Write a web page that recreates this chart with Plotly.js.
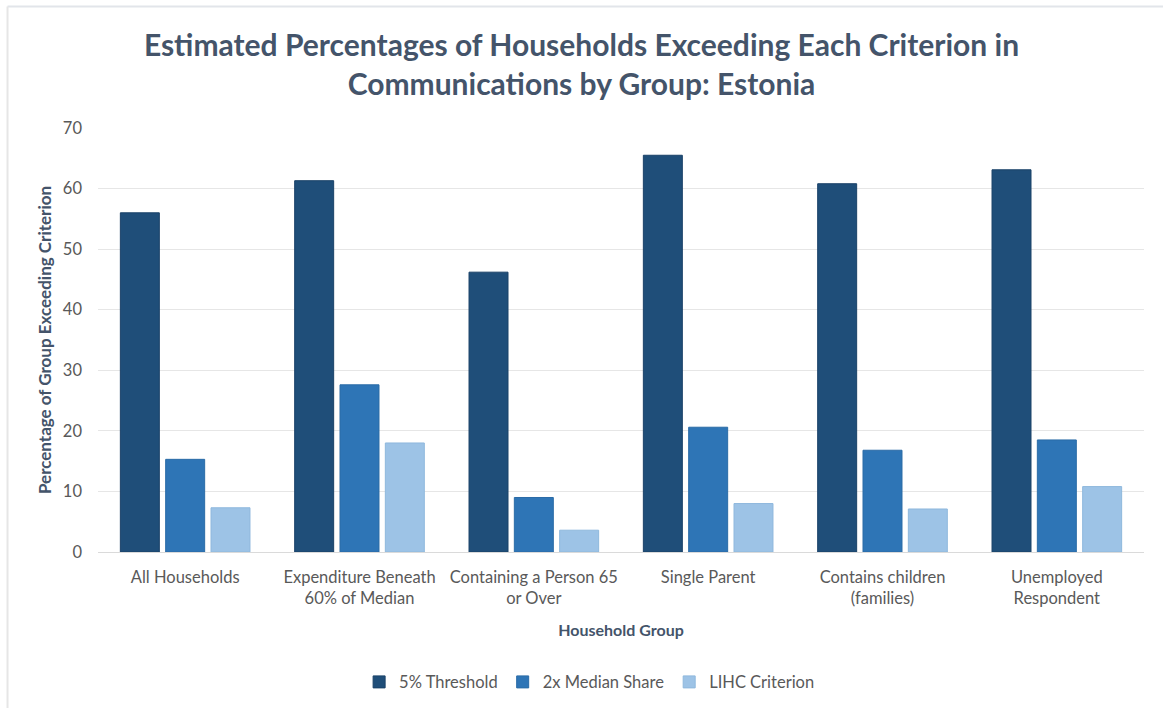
<!DOCTYPE html>
<html>
<head>
<meta charset="utf-8">
<script src="https://cdn.plot.ly/plotly-3.0.1.min.js"></script>
<style>html,body{margin:0;padding:0;background:#fff;}#chart{width:1163px;height:708px;}</style>
</head>
<body>
<div id="chart"></div>
<script>
const categories = [
  "All Households",
  "Expenditure Beneath<br>60% of Median",
  "Containing a Person 65<br>or Over",
  "Single Parent",
  "Contains children<br>(families)",
  "Unemployed<br>Respondent"
];
const seriesNames = ["5% Threshold", "2x Median Share", "LIHC Criterion"];
const threshold5 = [56.0, 61.3, 46.2, 65.5, 60.8, 63.1];
const medianShare2x = [15.3, 27.6, 9.0, 20.6, 16.8, 18.5];
const lihc = [7.3, 18.0, 3.6, 8.0, 7.1, 10.8];
const yTicks = [0, 10, 20, 30, 40, 50, 60, 70];

const colors = ["#1F4E79", "#2E75B6", "#9DC3E6"];
const lineColors = ["#1A4268", "#2A6BA6", "#8FB8DD"];
const seriesValues = [threshold5, medianShare2x, lihc];

const traces = seriesValues.map((vals, i) => ({
  type: "bar",
  name: seriesNames[i],
  x: categories,
  y: vals,
  marker: {color: colors[i], line: {color: lineColors[i], width: 1}},
  hoverinfo: "x+y+name"
}));

const fontFam = "Lato, 'Open Sans', sans-serif";
const layout = {
  width: 1163,
  height: 708,
  paper_bgcolor: "#ffffff",
  plot_bgcolor: "#ffffff",
  margin: {l: 98, r: 19, t: 128, b: 156, autoexpand: false},
  font: {family: fontFam, color: "#595959"},
  title: {
    text: "<b>Estimated Percentages of Households Exceeding Each Criterion in<br>Communications by Group: Estonia</b>",
    font: {family: fontFam, size: 30, color: "#44546A"},
    x: 0.5, xanchor: "center",
    y: 0.921, yanchor: "top"
  },
  barmode: "group",
  bargap: 0.22,
  bargroupgap: 0.14,
  xaxis: {
    type: "category",
    automargin: false,
    tickfont: {family: fontFam, size: 16.5, color: "#595959"},
    ticklabelstandoff: 13,
    showgrid: false,
    showline: false,
    ticks: "",
    tickangle: 0,
    title: {text: "<b>Household Group</b>", font: {family: fontFam, size: 16, color: "#44546A"}, standoff: 17}
  },
  yaxis: {
    range: [0, 70],
    automargin: false,
    tickvals: yTicks,
    ticktext: yTicks.map(String),
    tickfont: {family: fontFam, size: 16.5, color: "#595959"},
    showgrid: true,
    gridcolor: "#E6E6E6",
    gridwidth: 1,
    zeroline: true,
    zerolinecolor: "#DADADA",
    zerolinewidth: 1,
    showline: false,
    ticks: "",
    ticklabelstandoff: 15,
    title: {text: "<b>Percentage of Group Exceeding Criterion</b>", font: {family: fontFam, size: 17, color: "#44546A"}, standoff: 6}
  },
  legend: {
    orientation: "h",
    x: 0.47, xanchor: "center",
    y: -0.307, yanchor: "middle",
    font: {family: fontFam, size: 16.5, color: "#595959"},
    itemwidth: 30,
    traceorder: "normal"
  },
  shapes: [
    {type: "line", xref: "paper", yref: "paper", x0: -0.0865, x1: 1.02, y0: 1.2866, y1: 1.2866,
     line: {color: "#E2E5EA", width: 2}, layer: "below"},
    {type: "line", xref: "paper", yref: "paper", x0: -0.0865, x1: -0.0865, y0: 1.2866, y1: -0.37,
     line: {color: "#E6E6E6", width: 2}, layer: "below"}
  ]
};

Plotly.newPlot("chart", traces, layout, {displayModeBar: false, responsive: false});
</script>
</body>
</html>
